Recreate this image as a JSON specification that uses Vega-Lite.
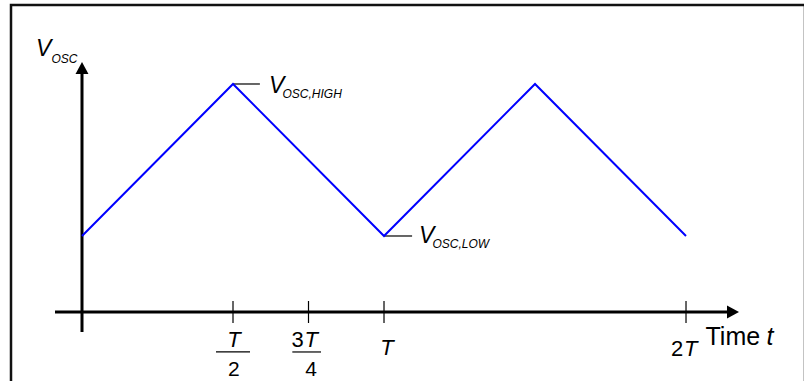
{
  "$schema": "https://vega.github.io/schema/vega-lite/v6.json",
  "width": 794,
  "height": 380,
  "autosize": {"type": "none"},
  "padding": {"left": 11, "top": 5, "right": 0, "bottom": 0},
  "background": "white",
  "config": {
    "view": {"stroke": "#111111", "strokeWidth": 2.5},
    "text": {"font": "Liberation Sans", "color": "black"}
  },
  "datasets": {
    "wave": [
      {"t": 0, "v": 0.5},
      {"t": 0.5, "v": 1.5},
      {"t": 1, "v": 0.5},
      {"t": 1.5, "v": 1.5},
      {"t": 2, "v": 0.5}
    ],
    "axes": [
      {"t": 0, "v": -0.1316, "t2": 0, "v2": 1.6},
      {"t": -0.0894, "v": 0, "t2": 2.15, "v2": 0}
    ],
    "thin": [
      {"t": 0.5, "v": 0.0724, "t2": 0.5, "v2": -0.0724},
      {"t": 0.75, "v": 0.0724, "t2": 0.75, "v2": -0.0724},
      {"t": 1, "v": 0.0724, "t2": 1, "v2": -0.0724},
      {"t": 2, "v": 0.0724, "t2": 2, "v2": -0.0724},
      {"t": 0.5, "v": 1.5, "t2": 0.589, "v2": 1.5},
      {"t": 1, "v": 0.5, "t2": 1.093, "v2": 0.5},
      {"t": 0.4437, "v": -0.263, "t2": 0.5563, "v2": -0.263},
      {"t": 0.6964, "v": -0.263, "t2": 0.7914, "v2": -0.263}
    ],
    "headUp": [{"t": 0, "v": 1.645}],
    "headRight": [{"t": 2.1755, "v": 0}],
    "bigV": [
      {"label": "V", "t": -0.1523, "v": 1.6842},
      {"label": "V", "t": 0.6192, "v": 1.4408},
      {"label": "V", "t": 1.1159, "v": 0.452}
    ],
    "subs": [
      {"label": "OSC", "t": -0.101, "v": 1.6414},
      {"label": "OSC,HIGH", "t": 0.6639, "v": 1.4079},
      {"label": "OSC,LOW", "t": 1.1606, "v": 0.419}
    ],
    "italicCenter": [
      {"label": "T", "t": 0.5033, "v": -0.2283},
      {"label": "T", "t": 1.0099, "v": -0.2829}
    ],
    "italicLeft": [
      {"label": "T", "t": 0.7368, "v": -0.2283},
      {"label": "T", "t": 1.9934, "v": -0.2895}
    ],
    "uprightCenter": [
      {"label": "2", "t": 0.5026, "v": -0.419},
      {"label": "4", "t": 0.7583, "v": -0.419}
    ],
    "uprightLeft": [
      {"label": "3", "t": 0.6937, "v": -0.2283},
      {"label": "2", "t": 1.9503, "v": -0.2895}
    ],
    "timeWord": [{"label": "Time", "t": 2.0646, "v": -0.2171}],
    "timeVar": [{"label": "t", "t": 2.2665, "v": -0.2171}]
  },
  "encoding": {
    "x": {"field": "t", "type": "quantitative", "scale": {"domain": [-0.2351, 2.394], "nice": false, "zero": false}, "axis": null},
    "y": {"field": "v", "type": "quantitative", "scale": {"domain": [-0.4803, 2.0197], "nice": false, "zero": false}, "axis": null}
  },
  "layer": [
    {
      "data": {"name": "axes"},
      "mark": {"type": "rule", "color": "black", "strokeWidth": 3},
      "encoding": {"x2": {"field": "t2"}, "y2": {"field": "v2"}}
    },
    {
      "data": {"name": "thin"},
      "mark": {"type": "rule", "color": "black", "strokeWidth": 1.2},
      "encoding": {"x2": {"field": "t2"}, "y2": {"field": "v2"}}
    },
    {
      "data": {"name": "headUp"},
      "mark": {"type": "point", "shape": "M0,0L0.54,1L-0.54,1Z", "size": 576, "filled": true, "color": "black", "opacity": 1}
    },
    {
      "data": {"name": "headRight"},
      "mark": {"type": "point", "shape": "M0,0L-1,-0.54L-1,0.54Z", "size": 576, "filled": true, "color": "black", "opacity": 1}
    },
    {
      "data": {"name": "wave"},
      "mark": {"type": "line", "color": "#0000FF", "strokeWidth": 2}
    },
    {
      "data": {"name": "bigV"},
      "mark": {"type": "text", "fontSize": 23, "fontStyle": "italic", "align": "left", "baseline": "alphabetic"},
      "encoding": {"text": {"field": "label"}}
    },
    {
      "data": {"name": "subs"},
      "mark": {"type": "text", "fontSize": 12, "fontStyle": "italic", "align": "left", "baseline": "alphabetic"},
      "encoding": {"text": {"field": "label"}}
    },
    {
      "data": {"name": "italicCenter"},
      "mark": {"type": "text", "fontSize": 22, "fontStyle": "italic", "align": "center", "baseline": "alphabetic"},
      "encoding": {"text": {"field": "label"}}
    },
    {
      "data": {"name": "italicLeft"},
      "mark": {"type": "text", "fontSize": 22, "fontStyle": "italic", "align": "left", "baseline": "alphabetic"},
      "encoding": {"text": {"field": "label"}}
    },
    {
      "data": {"name": "uprightCenter"},
      "mark": {"type": "text", "fontSize": 21, "align": "center", "baseline": "alphabetic"},
      "encoding": {"text": {"field": "label"}}
    },
    {
      "data": {"name": "uprightLeft"},
      "mark": {"type": "text", "fontSize": 22, "align": "left", "baseline": "alphabetic"},
      "encoding": {"text": {"field": "label"}}
    },
    {
      "data": {"name": "timeWord"},
      "mark": {"type": "text", "fontSize": 25, "align": "left", "baseline": "alphabetic"},
      "encoding": {"text": {"field": "label"}}
    },
    {
      "data": {"name": "timeVar"},
      "mark": {"type": "text", "fontSize": 25, "fontStyle": "italic", "align": "left", "baseline": "alphabetic"},
      "encoding": {"text": {"field": "label"}}
    }
  ]
}
